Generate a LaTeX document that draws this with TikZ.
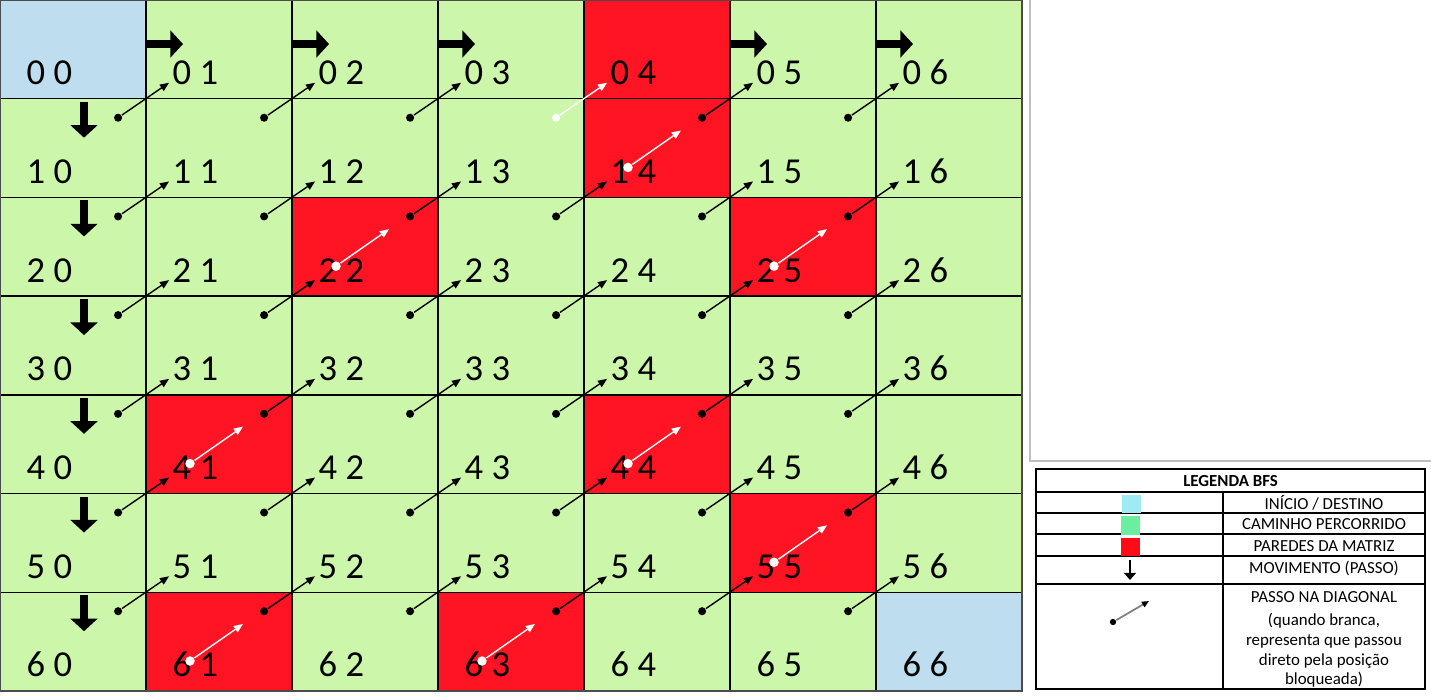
\documentclass[tikz,border=0pt]{standalone}
\usepackage{fontspec}
\setmainfont{Carlito}
\usepackage{tikz}
\usetikzlibrary{arrows.meta}

\definecolor{verde}{RGB}{204,246,170}
\definecolor{parede}{RGB}{255,20,36}
\definecolor{inicio}{RGB}{190,222,240}
\definecolor{legciano}{RGB}{160,234,244}
\definecolor{legverde}{RGB}{108,238,160}
\definecolor{legvermelho}{RGB}{255,12,24}

\tikzset{
	celula/.style={fill=verde, minimum width=1.46cm, minimum height=0.987cm,
		inner sep=0pt, outer sep=0pt, anchor=north west},
	rotulo/.style={font=\fontsize{10.4}{12}\selectfont, inner sep=0pt, anchor=base west},
	passo/.style={line width=2.1pt, -{Triangle[length=3.6pt,width=7.6pt]}},
	diagonal/.style={line width=0.4pt, -{Triangle[length=2.6pt,width=2.1pt]}},
	ponto/.style={circle, inner sep=0pt, minimum size=2.3pt},
	legenda/.style={font=\fontsize{4.8}{5.6}\selectfont, inner sep=0pt, anchor=base}
}

\begin{document}
\begin{tikzpicture}[x=0.01cm,y=-0.01cm]
\useasboundingbox (0,0) rectangle (1431,699);
\foreach \lin in {0,...,6}
{
	\foreach \col in {0,...,6}
	\node[celula] (c\lin\col) at (\col*146,\lin*98.7) {};
}
\foreach \lin/\col in {0/4,1/4,2/2,2/5,4/1,4/4,5/5,6/1,6/3}
	\fill[parede] (c\lin\col.north west) rectangle (c\lin\col.south east);
\foreach \lin/\col in {0/0,6/6}
	\fill[inicio] (c\lin\col.north west) rectangle (c\lin\col.south east);
\foreach \lin in {0,...,6}
{
	\foreach \col in {0,...,6}
	{
		\draw (c\lin\col.north west) rectangle (c\lin\col.south east);
		\node[rotulo] (l\lin\col) at ([shift={(26,-14)}]c\lin\col.south west) {\lin\ \col};
	}
}
\draw[line width=0.7pt,black!70] (c00.north west) rectangle (c66.south east);

% passos na linha 0 e na coluna 0
\foreach \col in {1,2,3,5,6}
	\draw[passo] ([shift={(0,44)}]c0\col.north west) -- ++(37,0);
\foreach \lin in {1,...,6}
	\draw[passo] ([shift={(84,3)}]c\lin0.north west) -- ++(0,36);

% passos na diagonal
\foreach \lin in {1,...,6}
{
	\foreach \col in {0,...,5}
	{
		\ifnum\lin\col=13 \def\cor{white}\else\def\cor{black}\fi
		\node[ponto,fill=\cor] (p\lin\col) at ([shift={(-28,19)}]c\lin\col.north east) {};
		\coordinate (t\lin\col) at ([shift={(23,-16)}]c\lin\col.north east);
		\draw[diagonal,\cor] (p\lin\col) -- (t\lin\col);
	}
}
\foreach \lin/\col in {1/4,2/2,2/5,4/1,4/4,5/5,6/1,6/3}
{
	\node[ponto,fill=white,minimum size=2.7pt] (b\lin\col) at ([shift={(44,-30)}]c\lin\col.south west) {};
	\coordinate (w\lin\col) at ([shift={(97,-67)}]c\lin\col.south west);
	\draw[diagonal,white] (b\lin\col) -- (w\lin\col);
}

% legenda
\draw[black!25,line width=0.6pt] (1030,0) -- (1030,461) -- (1431,461);
\draw[line width=0.5pt] (1036,469) rectangle (1425,689);
\foreach \y in {492,513,534,556,584}
	\draw[line width=0.5pt] (1036,\y) -- (1425,\y);
\draw[line width=0.5pt] (1223,492) -- (1223,689);
\node[legenda,font=\fontsize{4.8}{5.6}\selectfont\bfseries] (titulo) at (1230.5,486.7) {LEGENDA BFS};
\fill[legciano] (1122,495) rectangle (1141,513);
\fill[legverde] (1121,516) rectangle (1140,535);
\fill[legvermelho] (1121,538) rectangle (1140,556);
\coordinate (m1) at (1130,560);
\coordinate (m2) at (1130,580);
\draw[line width=0.8pt,-{Triangle[length=2pt,width=3.3pt]}] (m1) -- (m2);
\node[ponto,fill=black,minimum size=1.8pt] (d1) at (1113,622) {};
\coordinate (d2) at (1149,601);
\draw[gray,line width=0.5pt,-{Triangle[length=2pt,width=1.7pt,color=black]}] (d1) -- (d2);
\node[legenda] (leg1) at (1324,509.3) {INÍCIO / DESTINO};
\node[legenda] (leg2) at (1324,529.5) {CAMINHO PERCORRIDO};
\node[legenda] (leg3) at (1324,551.5) {PAREDES DA MATRIZ};
\node[legenda] (leg4) at (1324,573.3) {MOVIMENTO (PASSO)};
\node[legenda,align=center,anchor=north] (leg5) at (1324,590.5)
	{PASSO NA DIAGONAL\\[1.1pt] (quando branca,\\ representa que passou\\ direto pela posição\\ bloqueada)};
\end{tikzpicture}
\end{document}
